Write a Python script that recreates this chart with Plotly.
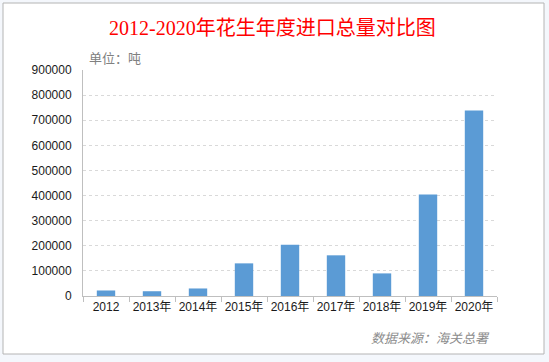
import plotly.graph_objects as go

categories = ["2012", "2013年", "2014年", "2015年", "2016年", "2017年", "2018年", "2019年", "2020年"]
values = [22000, 19000, 30000, 130000, 204000, 162000, 90000, 404000, 739000]
y_ticks = [0, 100000, 200000, 300000, 400000, 500000, 600000, 700000, 800000, 900000]

W, H = 549, 362
L, R, T, B = 83, 52, 70, 66
PW, PH = W - L - R, H - T - B

def px(x):
    return (x - L) / PW

def py(y):
    return (H - B - y) / PH

fig = go.Figure()
fig.add_trace(go.Bar(
    x=categories, y=values,
    marker=dict(color="#5b9bd5", line=dict(width=0)),
    width=0.4,
))

fig.update_layout(
    width=W, height=H,
    margin=dict(l=L, r=R, t=T, b=B, autoexpand=False),
    paper_bgcolor="#f4f7fc",
    plot_bgcolor="rgba(0,0,0,0)",
    showlegend=False,
    bargap=0.6,
    font=dict(family="Liberation Sans, Noto Sans CJK SC, sans-serif", size=12, color="#262626"),
    xaxis=dict(
        type="category", automargin=False, tickangle=0,
        showline=True, linecolor="#bfbfbf", linewidth=1,
        ticks="outside", ticklen=5, tickcolor="#bfbfbf", tickson="boundaries",
        showgrid=False,
        tickfont=dict(size=12, color="#1a1a1a"),
    ),
    yaxis=dict(
        range=[0, 900000], automargin=False,
        tickvals=y_ticks,
        ticktext=[str(v) for v in y_ticks],
        showline=True, linecolor="#bfbfbf", linewidth=1,
        showgrid=True, gridcolor="#d9d9d9", griddash="dot", gridwidth=1,
        zeroline=False,
        ticks="", ticklabelstandoff=8,
        tickfont=dict(size=12, color="#1a1a1a"),
    ),
    shapes=[
        dict(type="rect", xref="paper", yref="paper",
             x0=px(3), x1=px(544), y0=py(354), y1=py(3),
             fillcolor="white", line=dict(color="#b4b4b4", width=1), layer="below"),
    ],
    annotations=[
        dict(text="2012-2020年花生年度进口总量对比图", xref="paper", yref="paper",
             x=px(272), y=py(28), xanchor="center", yanchor="middle", showarrow=False,
             font=dict(family="Liberation Serif, Noto Sans CJK SC, serif", size=20, color="#ff0000")),
        dict(text="单位：吨", xref="paper", yref="paper",
             x=px(87), y=py(58), xanchor="left", yanchor="middle", showarrow=False,
             font=dict(family="Noto Sans CJK SC, sans-serif", size=13, color="#808080")),
        dict(text="<i>数据来源：海关总署</i>", xref="paper", yref="paper",
             x=px(492), y=py(337), xanchor="right", yanchor="middle", showarrow=False,
             font=dict(family="Noto Sans CJK SC, sans-serif", size=13, color="#8c8c8c")),
    ],
)

fig.write_html("out.html", config={"displayModeBar": False},
               post_script="document.body.style.margin='0';document.body.style.overflow='hidden';")
